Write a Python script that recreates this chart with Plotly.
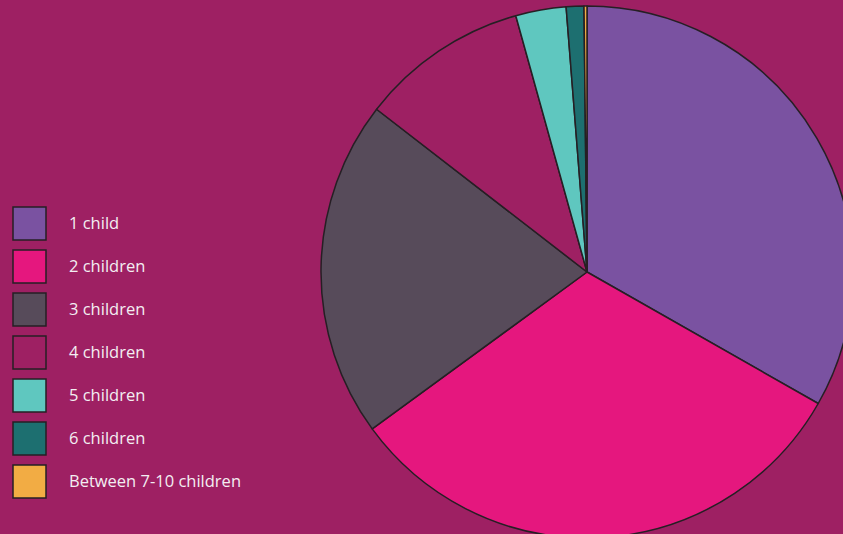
import plotly.graph_objects as go

labels = ["1 child", "2 children", "3 children", "4 children", "5 children", "6 children", "Between 7-10 children"]
values = [33.2, 31.7, 20.5, 10.2, 3.06, 1.07, 0.18]
colors = ["#7A52A1", "#E5177E", "#574B5A", "#9E2063", "#5FC7BF", "#1D6F70", "#F2AC44"]

BG = "#9E2063"
EDGE = "#261F24"
W, H = 860, 545

fig = go.Figure(go.Pie(
    labels=labels, values=values, sort=False, direction="clockwise", rotation=0,
    marker=dict(colors=colors, line=dict(color=EDGE, width=1.5)),
    textinfo="none", hoverinfo="label+percent", showlegend=False,
    domain=dict(x=[321 / W, 853 / W], y=[(H - 538) / H, (H - 6) / H]),
))

shapes, annotations = [], []
for i, (lab, col) in enumerate(zip(labels, colors)):
    cy = 223.5 + 43 * i
    shapes.append(dict(type="rect", xref="paper", yref="paper",
                       x0=13 / W, x1=46 / W, y0=1 - (cy + 16.5) / H, y1=1 - (cy - 16.5) / H,
                       fillcolor=col, line=dict(color=EDGE, width=1.5)))
    annotations.append(dict(xref="paper", yref="paper", x=67 / W, y=1 - (cy - 1) / H,
                            xanchor="left", yanchor="middle", showarrow=False, text=lab,
                            font=dict(family="Open Sans", size=16.5, color="#F3EEF2")))

fig.update_layout(width=W, height=H, margin=dict(l=0, r=0, t=0, b=0),
                  paper_bgcolor=BG, plot_bgcolor=BG, shapes=shapes, annotations=annotations)
fig.write_html(
    "out.html",
    config={"displayModeBar": False},
    post_script=("document.body.style.margin='0';document.body.style.overflow='hidden';"
                 "document.documentElement.style.overflow='hidden';"
                 "document.body.style.background='" + BG + "';"),
)
